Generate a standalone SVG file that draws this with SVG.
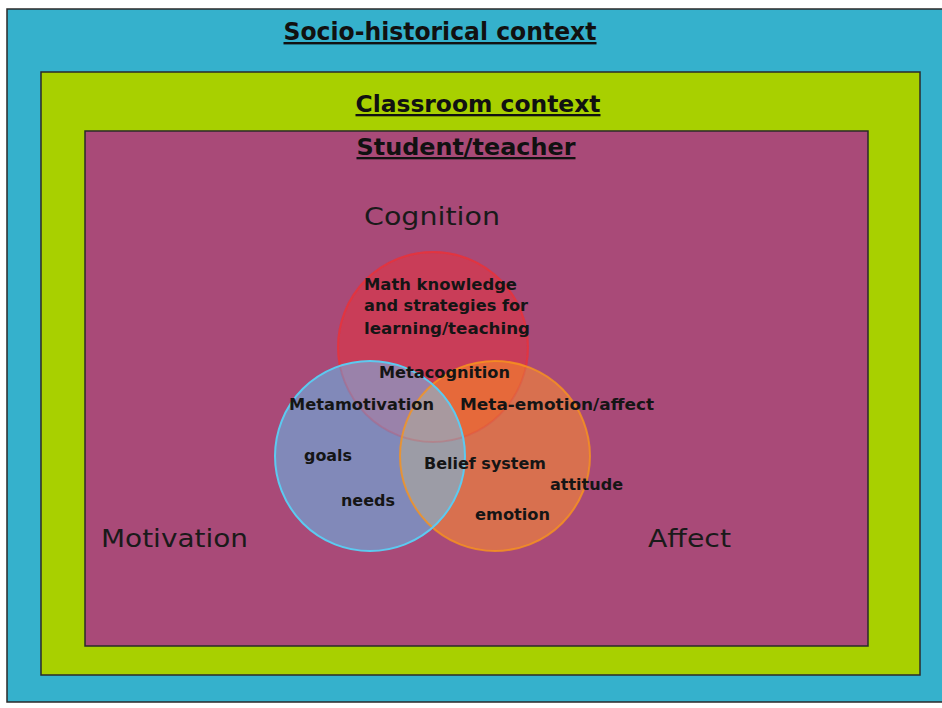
<svg xmlns="http://www.w3.org/2000/svg" width="942" height="708" viewBox="0 0 942 708">
<defs>
<style>
.frame{stroke:#2a2a2a;stroke-width:1.5}
.hd{font-family:"DejaVu Sans",Verdana,sans-serif;font-weight:bold;fill:#111;text-decoration:underline;text-anchor:middle}
.big{font-family:"DejaVu Sans",Verdana,sans-serif;font-size:25px;fill:#1a1a1a}
.lb{font-family:"DejaVu Sans",Verdana,sans-serif;font-weight:bold;font-size:15px;fill:#151515}
</style>
<clipPath id="cR"><circle cx="433" cy="347" r="95"/></clipPath>
<clipPath id="cB"><circle cx="370" cy="456" r="95"/></clipPath>
<clipPath id="cO"><circle cx="495" cy="456" r="95"/></clipPath>
</defs>
<rect width="942" height="708" fill="#ffffff"/>
<g id="socio">
<rect x="7" y="9" width="940" height="693" fill="#35b1cc" class="frame"/>
<text class="hd" x="440" y="40" font-size="24" textLength="313" lengthAdjust="spacingAndGlyphs">Socio-historical context</text>
</g>
<g id="classroom">
<rect x="41" y="72" width="879" height="603" fill="#a8d000" class="frame"/>
<text class="hd" x="478" y="112" font-size="23" textLength="245" lengthAdjust="spacingAndGlyphs">Classroom context</text>
</g>
<g id="student">
<rect x="85" y="131" width="783" height="515" fill="#a94a78" class="frame"/>
<text class="hd" x="466" y="155" font-size="23" textLength="219" lengthAdjust="spacingAndGlyphs">Student/teacher</text>
</g>
<g id="labels-domains">
<text class="big" x="364" y="225" textLength="136" lengthAdjust="spacingAndGlyphs">Cognition</text>
<text class="big" x="101" y="547" textLength="147" lengthAdjust="spacingAndGlyphs">Motivation</text>
<text class="big" x="648" y="547" textLength="83" lengthAdjust="spacingAndGlyphs">Affect</text>
</g>
<g id="cognition">
<circle cx="433" cy="347" r="95" fill="#c93d58" stroke="#e8343c" stroke-width="2" stroke-opacity="0.85"/>
</g>
<g id="motivation">
<circle cx="370" cy="456" r="95" fill="#8189b9"/>
</g>
<g id="affect">
<circle cx="495" cy="456" r="95" fill="#d8704f"/>
</g>
<g id="overlaps">
<g clip-path="url(#cR)"><circle cx="495" cy="456" r="95" fill="#e6693a"/></g>
<g clip-path="url(#cR)"><circle cx="370" cy="456" r="95" fill="#9a82aa"/></g>
<g clip-path="url(#cB)"><circle cx="495" cy="456" r="95" fill="#9c9ca6"/></g>
<g clip-path="url(#cB)"><g clip-path="url(#cO)"><circle cx="433" cy="347" r="95" fill="#a8999f"/></g></g>
</g>
<g id="outlines" fill="none" stroke-width="2">
<circle cx="433" cy="347" r="95" stroke="#e8343c" stroke-opacity="0.2"/>
<circle cx="495" cy="456" r="95" stroke="#f7941d" stroke-opacity="0.8"/>
<circle cx="370" cy="456" r="95" stroke="#5ccaf0"/>
</g>
<g id="texts">
<text class="lb" x="364" y="290" textLength="153" lengthAdjust="spacingAndGlyphs">Math knowledge</text>
<text class="lb" x="364" y="311" textLength="164" lengthAdjust="spacingAndGlyphs">and strategies for</text>
<text class="lb" x="364" y="334" textLength="166" lengthAdjust="spacingAndGlyphs">learning/teaching</text>
<text class="lb" x="379" y="378" textLength="131" lengthAdjust="spacingAndGlyphs">Metacognition</text>
<text class="lb" x="289" y="410" textLength="145" lengthAdjust="spacingAndGlyphs">Metamotivation</text>
<text class="lb" x="460" y="410" textLength="194" lengthAdjust="spacingAndGlyphs">Meta-emotion/affect</text>
<text class="lb" x="304" y="461" textLength="48" lengthAdjust="spacingAndGlyphs">goals</text>
<text class="lb" x="424" y="469" textLength="122" lengthAdjust="spacingAndGlyphs">Belief system</text>
<text class="lb" x="550" y="490" textLength="73" lengthAdjust="spacingAndGlyphs">attitude</text>
<text class="lb" x="341" y="506" textLength="54" lengthAdjust="spacingAndGlyphs">needs</text>
<text class="lb" x="475" y="520" textLength="75" lengthAdjust="spacingAndGlyphs">emotion</text>
</g>
<g id="connectors"/>
</svg>
